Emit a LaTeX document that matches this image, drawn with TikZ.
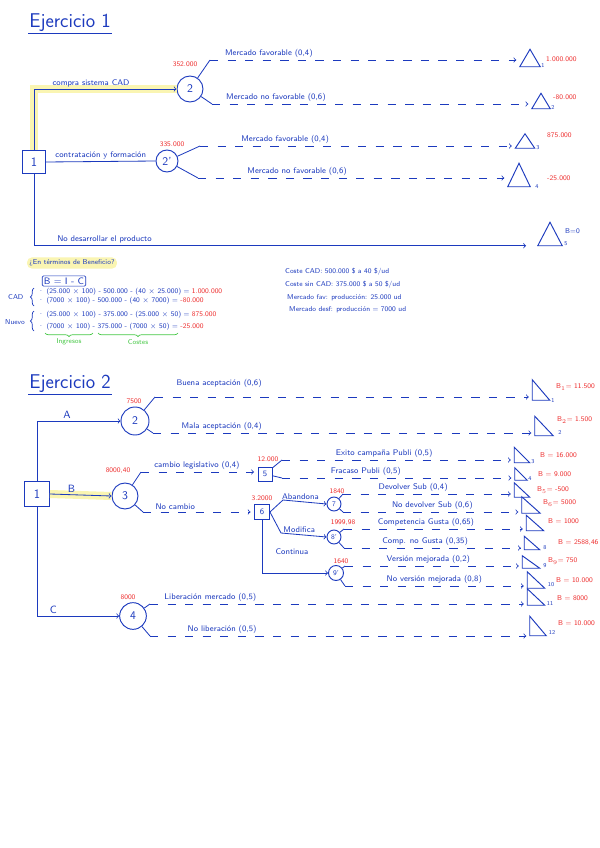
\documentclass[tikz,border=0pt]{standalone}
\usepackage{fontspec}
\usetikzlibrary{decorations.pathreplacing}
\definecolor{ink}{RGB}{28,58,190}
\definecolor{redink}{RGB}{238,45,45}
\definecolor{hl}{RGB}{250,245,178}
\definecolor{greenink}{RGB}{70,200,70}
\begin{document}
\begin{tikzpicture}[
  x=0.03cm, y=-0.03cm, color=ink,
  font=\sffamily\fontsize{7}{8}\selectfont,
  title/.style={font=\sffamily\fontsize{17}{20}\selectfont, inner sep=1pt},
  dec/.style={draw, line width=0.8pt, minimum size=#1, inner sep=0pt, font=\sffamily\fontsize{11}{12}\selectfont},
  chance/.style={draw, circle, line width=0.8pt, minimum size=#1, inner sep=0pt, font=\sffamily\fontsize{10}{12}\selectfont},
  isotri/.style 2 args={inner sep=0pt, minimum width=#1, minimum height=#2,
    append after command={\pgfextra{\draw[line width=0.8pt, ink] (\tikzlastnode.north) -- (\tikzlastnode.south west) -- (\tikzlastnode.south east) -- cycle;}}},
  rtri/.style 2 args={inner sep=0pt, minimum width=#1, minimum height=#2,
    append after command={\pgfextra{\draw[line width=0.8pt, ink] (\tikzlastnode.north west) -- (\tikzlastnode.south west) -- (\tikzlastnode.south east) -- cycle;}}},
  lbl/.style={above, inner sep=1.5pt},
  val/.style={text=redink, inner sep=0pt, font=\sffamily\fontsize{6}{7}\selectfont},
  num/.style={inner sep=0pt, font=\sffamily\fontsize{5}{6}\selectfont},
  note/.style={anchor=west, inner sep=0pt, font=\sffamily\fontsize{6}{7}\selectfont},
  branch/.style={line width=0.7pt},
  arrow/.style={->, line width=0.7pt},
  dasharrow/.style={->, dashed, dash pattern=on 7pt off 8pt, line width=0.7pt, shorten >=3pt},
  hilite/.style={draw=hl, line width=0.24cm},
  bracedeco/.style={decorate, decoration={brace, amplitude=3pt}, line width=0.6pt}
]
\fill[white] (0,0) rectangle (600,848);
\useasboundingbox (0,0) rectangle (600,848);

\node[title, anchor=south west] (ej1) at (28,33) {Ejercicio 1};
\draw[line width=0.6pt] (ej1.south west) -- (ej1.south east);

\node[dec=0.69cm] (d1) at (34,162) {1};
\node[chance=0.78cm] (c2) at (190,89) {2};
\node[chance=0.66cm] (c3) at (167,161) {2'};
\node[val] (vc2) at (185,64) {352.000};
\node[val] (vc3) at (172,144) {335.000};

\node[isotri={0.6cm}{0.51cm}] (t1) at (530,58) {};
\node[isotri={0.54cm}{0.45cm}] (t2) at (541,101) {};
\node[isotri={0.57cm}{0.42cm}] (t3) at (525,141) {};
\node[isotri={0.66cm}{0.69cm}] (t4) at (519,175) {};
\node[isotri={0.72cm}{0.69cm}] (t5) at (550,234) {};
\node[num] (n1) at (543,66) {1};
\node[num] (n2) at (553,108) {2};
\node[num] (n3) at (538,148) {3};
\node[num] (n4) at (537,187) {4};
\node[num] (n5) at (566,244) {5};
\node[val, anchor=west] (v1) at (546,59) {1.000.000};
\node[val, anchor=west] (v2) at (553,97) {-80.000};
\node[val, anchor=west] (v3) at (547,135) {875.000};
\node[val, anchor=west] (v4) at (547,178) {-25.000};
\node[num, anchor=west, font=\sffamily\fontsize{6}{7}\selectfont] (v5) at (565,231) {B=0};

\draw[hilite] (d1.north) |- (c2.west);
\draw[arrow] (d1.north) |- (c2.west) node[lbl, pos=0.7] {compra sistema CAD};
\draw[branch] (d1.east) -- (c3.west) node[lbl, midway] {contratación y formación};
\draw[arrow, shorten >=10pt] (d1.south) |- (t5.south west) node[lbl, pos=0.57] {No desarrollar el producto};

\coordinate (c2u) at (210,60);
\coordinate (c2d) at (212,104);
\coordinate (c3u) at (200,146);
\coordinate (c3d) at (198,178);
\draw[branch] (c2) -- (c2u);
\draw[branch] (c2) -- (c2d);
\draw[branch] (c3) -- (c3u);
\draw[branch] (c3) -- (c3d);
\draw[dasharrow] (c2u) -- (c2u -| t1.west) node[lbl, pos=0.19] {Mercado favorable (0,4)};
\draw[dasharrow] (c2d) -- (c2d -| t2.west) node[lbl, pos=0.2] {Mercado no favorable (0,6)};
\draw[dasharrow] (c3u) -- (c3u -| t3.west) node[lbl, pos=0.27] {Mercado favorable (0,4)};
\draw[dasharrow] (c3d) -- (c3d -| t4.west) node[lbl, pos=0.32] {Mercado no favorable (0,6)};

\node[fill=hl, rounded corners=4pt, inner sep=2pt, font=\sffamily\fontsize{6}{7}\selectfont] (q) at (72,263) {¿En términos de Beneficio?};
\node[draw, rounded corners=1pt, inner sep=1.5pt, line width=0.6pt, font=\sffamily\fontsize{8}{9}\selectfont] (bic) at (64,281) {B = I - C};
\node[note] (cad) at (8,297) {CAD};
\node[note] (nuevo) at (5,322) {Nuevo};
\draw[bracedeco] (34,306) -- (34,288);
\draw[bracedeco] (34,331) -- (34,311);
\node[note] (l1) at (38,292) {· (25.000 $\times$ 100) - 500.000 - (40 $\times$ 25.000) = \textcolor{redink}{1.000.000}};
\node[note] (l2) at (38,301) {· (7000 $\times$ 100) - 500.000 - (40 $\times$ 7000) = \textcolor{redink}{-80.000}};
\node[note] (l3) at (38,315) {· (25.000 $\times$ 100) - 375.000 - (25.000 $\times$ 50) = \textcolor{redink}{875.000}};
\node[note] (l4) at (38,327) {· (7000 $\times$ 100) - 375.000 - (7000 $\times$ 50) = \textcolor{redink}{-25.000}};
\draw[bracedeco, greenink] (93,333) -- (45,333);
\draw[bracedeco, greenink] (178,333) -- (98,333);
\node[note, anchor=center, text=greenink] (ing) at (69,342) {Ingresos};
\node[note, anchor=center, text=greenink] (cos) at (138,342) {Costes};

\node[note] (r1) at (285,272) {Coste CAD: 500.000 \$ a 40 \$/ud};
\node[note] (r2) at (285,285) {Coste sin CAD: 375.000 \$ a 50 \$/ud};
\node[note] (r3) at (287,298) {Mercado fav: producción: 25.000 ud};
\node[note] (r4) at (289,310) {Mercado desf: producción = 7000 ud};

\node[title, anchor=south west] (ej2) at (28,394) {Ejercicio 2};
\draw[line width=0.6pt] (ej2.south west) -- (ej2.south east);

\node[dec=0.75cm] (e1) at (37,494) {1};
\node[chance=0.84cm] (f2) at (135,421) {2};
\node[chance=0.78cm] (f3) at (125,496) {3};
\node[chance=0.8cm] (f4) at (133,616) {4};
\node[val] (vf2) at (134,401) {7500};
\node[val] (vf3) at (118,471) {8000,40};
\node[val] (vf4) at (128,597) {8000};

\draw[hilite] (e1.east) -- (f3.west);
\draw[arrow] (e1.north) |- (f2.west) node[lbl, pos=0.68, font=\sffamily\fontsize{9}{10}\selectfont] {A};
\draw[arrow] (e1.east) -- (f3.west) node[lbl, pos=0.35, font=\sffamily\fontsize{9}{10}\selectfont] {B};
\draw[arrow] (e1.south) |- (f4.west) node[lbl, pos=0.6, font=\sffamily\fontsize{9}{10}\selectfont] {C};

\node[dec=0.42cm, font=\sffamily\fontsize{7}{8}\selectfont] (q5) at (265,474) {5};
\node[dec=0.45cm, font=\sffamily\fontsize{7}{8}\selectfont] (q6) at (262,512) {6};
\node[val] (vq5) at (268,459) {12.000};
\node[val] (vq6) at (262,498) {3.2000};
\node[chance=0.42cm, font=\sffamily\fontsize{6}{7}\selectfont] (g7) at (334,504) {7};
\node[chance=0.42cm, font=\sffamily\fontsize{6}{7}\selectfont] (g8) at (334,537) {8'};
\node[chance=0.45cm, font=\sffamily\fontsize{6}{7}\selectfont] (g9) at (336,573) {9'};
\node[val] (vg7) at (337,491) {1840};
\node[val] (vg8) at (343,523) {1999,98};
\node[val] (vg9) at (341,561) {1640};

\node[rtri={0.51cm}{0.6cm}] (s1) at (541,390) {};
\node[rtri={0.54cm}{0.57cm}] (s2) at (544,426) {};
\node[rtri={0.45cm}{0.45cm}] (s3) at (522,455) {};
\node[rtri={0.36cm}{0.36cm}] (s4) at (521,474) {};
\node[rtri={0.45cm}{0.42cm}] (s5) at (522,490) {};
\node[rtri={0.54cm}{0.48cm}] (s6) at (531,505) {};
\node[rtri={0.51cm}{0.45cm}] (s7) at (535,523) {};
\node[rtri={0.45cm}{0.39cm}] (s8) at (532,543) {};
\node[rtri={0.51cm}{0.36cm}] (s9) at (531,562) {};
\node[rtri={0.51cm}{0.48cm}] (s10) at (536,580) {};
\node[rtri={0.51cm}{0.48cm}] (s11) at (536,597) {};
\node[rtri={0.48cm}{0.57cm}] (s12) at (538,626) {};
\node[num] (m1) at (553,401) {1};
\node[num] (m2) at (560,433) {2};
\node[num] (m3) at (533,462) {3};
\node[num] (m4) at (530,479) {4};
\node[num] (m8) at (545,548) {8};
\node[num] (m9) at (545,566) {9};
\node[num] (m10) at (551,585) {10};
\node[num] (m11) at (550,604) {11};
\node[num] (m12) at (552,633) {12};
\node[val, anchor=west] (w1) at (556,387) {B$_1$= 11.500};
\node[val, anchor=west] (w2) at (557,420) {B$_2$= 1.500};
\node[val, anchor=west] (w3) at (540,455) {B = 16.000};
\node[val, anchor=west] (w4) at (538,474) {B = 9.000};
\node[val, anchor=west] (w5) at (537,490) {B$_5$= -500};
\node[val, anchor=west] (w6) at (543,503) {B$_6$= 5000};
\node[val, anchor=west] (w7) at (548,521) {B = 1000};
\node[val, anchor=west] (w8) at (558,543) {B = 2588,46};
\node[val, anchor=west] (w9) at (548,561) {B$_9$= 750};
\node[val, anchor=west] (w10) at (556,580) {B = 10.000};
\node[val, anchor=west] (w11) at (557,598) {B = 8000};
\node[val, anchor=west] (w12) at (558,623) {B = 10.000};

\coordinate (f2u) at (155,397);
\coordinate (f2d) at (153,433);
\coordinate (f3u) at (141,472);
\coordinate (f3d) at (143,512);
\coordinate (f4u) at (150,604);
\coordinate (f4d) at (150,636);
\draw[branch] (f2) -- (f2u);
\draw[branch] (f2) -- (f2d);
\draw[branch] (f3) -- (f3u);
\draw[branch] (f3) -- (f3d);
\draw[branch] (f4) -- (f4u);
\draw[branch] (f4) -- (f4d);
\draw[dasharrow] (f2u) -- (f2u -| s1.west) node[lbl, pos=0.17, yshift=6pt] {Buena aceptación (0,6)};
\draw[dasharrow] (f2d) -- (f2d -| s2.west) node[lbl, pos=0.18] {Mala aceptación (0,4)};
\draw[dasharrow] (f3u) -- (f3u -| q5.west) node[lbl, pos=0.48] {cambio legislativo (0,4)};
\draw[dasharrow] (f3d) -- (f3d -| q6.west) node[lbl, pos=0.29] {No cambio};
\draw[dasharrow] (f4u) -- (f4u -| s11.west) node[lbl, pos=0.16] {Liberación mercado (0,5)};
\draw[dasharrow] (f4d) -- (f4d -| s12.west) node[lbl, pos=0.19] {No liberación (0,5)};

\coordinate (q5u) at (282,460);
\coordinate (q5d) at (282,478);
\draw[branch] (q5) -- (q5u);
\draw[branch] (q5) -- (q5d);
\draw[dasharrow] (q5u) -- (q5u -| s3.west) node[lbl, pos=0.44] {Exito campaña Publi (0,5)};
\draw[dasharrow] (q5d) -- (q5d -| s4.west) node[lbl, pos=0.36] {Fracaso Publi (0,5)};

\coordinate (q6a) at (283,500);
\coordinate (q6b) at (281,533);
\draw[arrow] (q6.east) -- (q6a) -- (g7.west) node[lbl, pos=0.4] {Abandona};
\draw[arrow] (q6.east) -- (q6b) -- (g8.west) node[lbl, pos=0.4] {Modifica};
\draw[arrow] (q6.south) |- (g9.west);
\node (cont) at (292,552) {Continua};

\coordinate (g7u) at (343,494);
\coordinate (g7d) at (343,512);
\coordinate (g8u) at (344,529);
\coordinate (g8d) at (344,548);
\coordinate (g9u) at (345,566);
\coordinate (g9d) at (345,586);
\draw[branch] (g7) -- (g7u);
\draw[branch] (g7) -- (g7d);
\draw[branch] (g8) -- (g8u);
\draw[branch] (g8) -- (g8d);
\draw[branch] (g9) -- (g9u);
\draw[branch] (g9) -- (g9d);
\draw[dasharrow] (g7u) -- (g7u -| s5.west) node[lbl, pos=0.41] {Devolver Sub (0,4)};
\draw[dasharrow] (g7d) -- (g7d -| s6.west) node[lbl, pos=0.5] {No devolver Sub (0,6)};
\draw[dasharrow] (g8u) -- (g8u -| s7.west) node[lbl, pos=0.45] {Competencia Gusta (0,65)};
\draw[dasharrow] (g8d) -- (g8d -| s8.west) node[lbl, pos=0.45] {Comp. no Gusta (0,35)};
\draw[dasharrow] (g9u) -- (g9u -| s9.west) node[lbl, pos=0.47] {Versión mejorada (0,2)};
\draw[dasharrow] (g9d) -- (g9d -| s10.west) node[lbl, pos=0.49] {No versión mejorada (0,8)};
\end{tikzpicture}
\end{document}
